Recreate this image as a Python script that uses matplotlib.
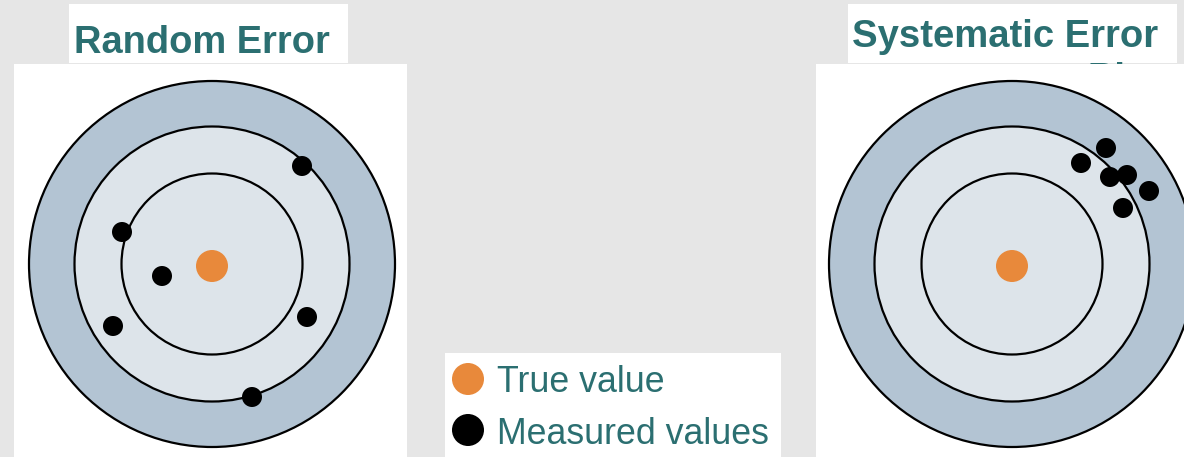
import matplotlib.pyplot as plt
from matplotlib.patches import Circle, Rectangle

# layout in pixel coords (figure is 1184 x 457 at dpi 100)
W, H = 1184, 457

bg_color = '#e6e6e6'
teal = '#2b6f71'
orange = '#e8893b'
ring_outer = '#b3c4d3'
ring_inner = '#dde4ea'

titles = ['Random Error', 'Systematic Error']
legend_labels = ['True value', 'Measured values']

# target centres and ring radii
target_centers = [(212, 264), (1012, 264)]
ring_radii = [183, 137.5, 90.5]

# measured value positions (pixels)
random_x = [302, 122, 162, 113, 307, 252]
random_y = [166, 232, 276, 326, 317, 397]
systematic_x = [1081, 1106, 1110, 1127, 1149, 1123]
systematic_y = [163, 148, 177, 175, 191, 208]

fig = plt.figure(figsize=(W / 100, H / 100), dpi=100)
fig.patch.set_facecolor(bg_color)
ax = fig.add_axes([0, 0, 1, 1])
ax.set_xlim(0, W)
ax.set_ylim(H, 0)
ax.axis('off')

px = 0.72  # pixels -> points

# title boxes
ax.add_patch(Rectangle((69, 4), 279, 59, facecolor='white', edgecolor='none', zorder=1))
ax.add_patch(Rectangle((848, 4), 329, 59, facecolor='white', edgecolor='none', zorder=1))
ax.text(202, 53, titles[0], color=teal, fontsize=38 * px, fontweight='bold',
        family='Liberation Sans', ha='center', va='baseline', zorder=2)
ax.text(1005, 47, titles[1], color=teal, fontsize=38.3 * px, fontweight='bold',
        family='Liberation Sans', ha='center', va='baseline', zorder=2)
# partly hidden label behind right panel
ax.text(1088, 90, 'Bias', color=teal, fontsize=38 * px, fontweight='bold',
        family='Liberation Sans', ha='left', va='baseline', zorder=2)

# white panels
ax.add_patch(Rectangle((14, 64), 393, H - 64, facecolor='white', edgecolor='none', zorder=3))
ax.add_patch(Rectangle((816, 64), W - 816, H - 64, facecolor='white', edgecolor='none', zorder=3))

# targets
for cx, cy in target_centers:
    for r, fc in zip(ring_radii, [ring_outer, ring_inner, ring_inner]):
        ax.add_patch(Circle((cx, cy), r, facecolor=fc, edgecolor='black', lw=1.6, zorder=4))
    ax.add_patch(Circle((cx, cy + 2), 16, facecolor=orange, edgecolor='none', zorder=5))

for xs, ys in [(random_x, random_y), (systematic_x, systematic_y)]:
    for x, y in zip(xs, ys):
        ax.add_patch(Circle((x, y), 10, facecolor='black', edgecolor='none', zorder=6))

# legend box
ax.add_patch(Rectangle((445, 353), 336, H - 353, facecolor='white', edgecolor='none', zorder=3))
ax.add_patch(Circle((468, 379), 16, facecolor=orange, edgecolor='none', zorder=5))
ax.add_patch(Circle((468, 430), 16, facecolor='black', edgecolor='none', zorder=5))
ax.text(497, 392, legend_labels[0], color=teal, fontsize=35.7 * px,
        family='Liberation Sans', ha='left', va='baseline', zorder=6)
ax.text(497, 444, legend_labels[1], color=teal, fontsize=35.7 * px,
        family='Liberation Sans', ha='left', va='baseline', zorder=6)

fig.savefig('out.png', dpi=100, facecolor=fig.get_facecolor())
